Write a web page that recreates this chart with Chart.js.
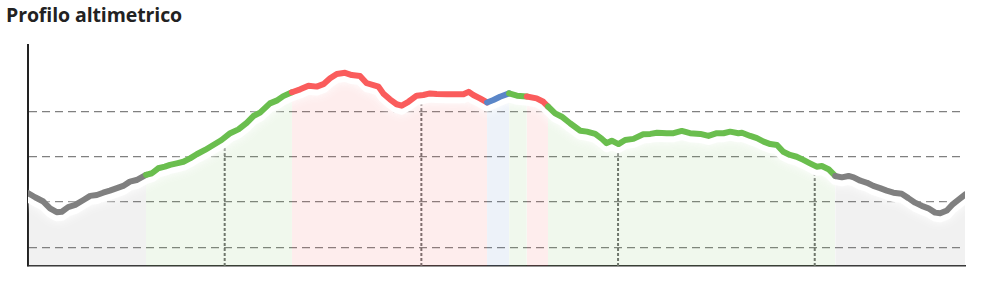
<!DOCTYPE html>
<html lang="it">
<head>
<meta charset="utf-8">
<title>Profilo altimetrico</title>
<script src="https://cdn.jsdelivr.net/npm/chart.js@4/dist/chart.umd.min.js"></script>
<style>
    html, body { margin: 0; padding: 0; background: #fff; }
    #titolo {
        position: absolute; left: 6px; top: 1px; margin: 0;
        font: bold 19.5px "Open Sans", sans-serif; color: #222; letter-spacing: -0.1px;
    }
    #grafico { position: absolute; left: 0; top: 0; }
</style>
</head>
<body>
<h4 id="titolo">Profilo altimetrico</h4>
<canvas id="grafico" width="985" height="284"></canvas>
<script>
    var distanzaKm = [0.00,0.18,0.39,0.56,0.73,0.86,1.02,1.20,1.41,1.58,
        1.75,1.91,2.08,2.26,2.42,2.59,2.76,3.00,3.15,3.31,
        3.48,3.61,3.78,3.95,4.12,4.29,4.50,4.71,4.92,5.14,
        5.35,5.56,5.73,5.90,6.15,6.32,6.49,6.71,6.92,7.13,
        7.34,7.51,7.68,7.85,8.06,8.23,8.44,8.61,8.78,8.91,
        9.03,9.20,9.37,9.50,9.67,9.88,10.05,10.22,10.39,10.65,
        10.90,11.07,11.20,11.32,11.49,11.67,11.83,12.00,12.23,12.43,
        12.68,12.93,13.10,13.22,13.40,13.57,13.78,14.04,14.21,14.42,
        14.59,14.71,14.84,15.01,15.18,15.39,15.64,15.82,15.99,16.24,
        16.41,16.62,16.83,17.09,17.30,17.51,17.68,17.85,18.06,18.15,
        18.36,18.53,18.70,18.87,19.04,19.20,19.37,19.54,19.71,19.88,
        20.05,20.18,20.35,20.52,20.69,20.86,20.99,21.16,21.33,21.49,
        21.66,21.83,22.00,22.21,22.38,22.55,22.72,22.89,23.06,23.19,
        23.36,23.49,23.65,23.82];

    var quotaM = [1439,1421,1402,1372,1355,1357,1377,1387,1409,1427,
        1431,1441,1450,1461,1471,1490,1497,1520,1527,1549,
        1556,1564,1571,1578,1593,1611,1630,1652,1674,1704,
        1721,1750,1780,1795,1836,1848,1868,1885,1898,1914,
        1910,1921,1947,1966,1971,1961,1957,1925,1917,1910,
        1880,1854,1832,1826,1843,1870,1873,1880,1877,1876,
        1876,1876,1887,1873,1858,1840,1851,1865,1880,1870,
        1866,1858,1843,1822,1792,1777,1748,1715,1711,1701,
        1679,1660,1671,1656,1674,1679,1699,1701,1706,1704,
        1704,1714,1704,1701,1692,1704,1704,1711,1704,1706,
        1692,1682,1667,1656,1652,1622,1608,1600,1586,1571,
        1556,1559,1545,1515,1509,1515,1509,1494,1485,1471,
        1461,1450,1441,1436,1417,1397,1383,1372,1353,1350,
        1362,1387,1409,1433];

    //Tratti colorati: fine del tratto (km) e tipo
    var fineTrattoKm = [3.00, 6.71, 11.67, 12.23, 12.68, 13.22, 20.52, 23.82];
    var tipoTratto = ["grigio", "verde", "rosso", "blu", "verde", "rosso", "verde", "grigio"];

    //Chilometri segnati con la linea verticale e quota del profilo in quel punto
    var kmSegnati = [5, 10, 15, 20];
    var quotaSegnati = [1682, 1873, 1657, 1557];

    //Linee orizzontali della griglia
    var quoteGriglia = [1200, 1400, 1600, 1800];

    var colori = {
        grigio: "rgb(128,128,128)",
        verde: "rgb(106,190,78)",
        rosso: "rgb(250,92,92)",
        blu: "rgb(90,134,200)"
    };
    var coloriFill = {
        grigio: "rgba(128,128,128,0.11)",
        verde: "rgba(106,190,78,0.1)",
        rosso: "rgba(250,92,92,0.11)",
        blu: "rgba(90,134,200,0.11)"
    };

    var quotaMin = 1117, quotaMax = 2094;

    function tipoDi(km) {
        for (let i = 0; i < fineTrattoKm.length; i++) {
            if (km < fineTrattoKm[i] - 1e-6) return tipoTratto[i];
        }
        return tipoTratto[tipoTratto.length - 1];
    }

    var punti = distanzaKm.map((km, i) => ({ x: km, y: quotaM[i] }));

    //Alone bianco sotto la linea del profilo
    var alone = {
        id: "alone",
        beforeDatasetDraw(chart, args) {
            if (!chart.data.datasets[args.index].alone) return;
            let ctx = chart.ctx;
            ctx.save();
            ctx.translate(0, 4);
            ctx.shadowColor = "#fff";
            ctx.shadowBlur = 10;
        },
        afterDatasetDraw(chart, args) {
            if (chart.data.datasets[args.index].alone) chart.ctx.restore();
        }
    };

    var datasets = [
        {
            //linea colorata
            data: punti, order: 0, fill: false,
            borderWidth: 6, borderJoinStyle: "round", borderCapStyle: "round",
            pointRadius: 0, tension: 0,
            segment: { borderColor: c => colori[tipoDi(c.p0.parsed.x)] }
        },
        {
            data: punti, order: 1, fill: false, alone: true,
            borderColor: "#fff", borderWidth: 10, borderJoinStyle: "round",
            pointRadius: 0
        },
        {
            data: punti, order: 2, fill: "start", borderWidth: 0, borderColor: "rgba(0,0,0,0)",
            pointRadius: 0,
            segment: { backgroundColor: c => coloriFill[tipoDi(c.p0.parsed.x)] }
        }
    ];

    kmSegnati.forEach((km, i) => {
        datasets.push({
            data: [{ x: km, y: quotaMin }, { x: km, y: quotaSegnati[i] }],
            order: 3, fill: false, pointRadius: 0,
            borderColor: "#707070", borderWidth: 2, borderDash: [3, 2]
        });
    });

    new Chart(document.getElementById("grafico").getContext("2d"), {
        type: "line",
        data: { datasets: datasets },
        options: {
            responsive: false,
            animation: false,
            layout: { padding: { left: 28, top: 45, right: 20, bottom: 18 } },
            plugins: { legend: { display: false }, tooltip: { enabled: false } },
            scales: {
                x: {
                    type: "linear", min: 0, max: 23.82,
                    ticks: { display: false },
                    grid: { display: false, drawTicks: false },
                    border: { display: true, color: "#333", width: 1.5 }
                },
                y: {
                    min: quotaMin, max: quotaMax,
                    afterBuildTicks: scale => { scale.ticks = quoteGriglia.map(v => ({ value: v })); },
                    ticks: { display: false },
                    grid: { color: "#808080", lineWidth: 1.2, drawTicks: false },
                    border: { display: true, color: "#222", width: 2, dash: [8, 5] }
                }
            }
        },
        plugins: [alone]
    });
</script>
</body>
</html>
